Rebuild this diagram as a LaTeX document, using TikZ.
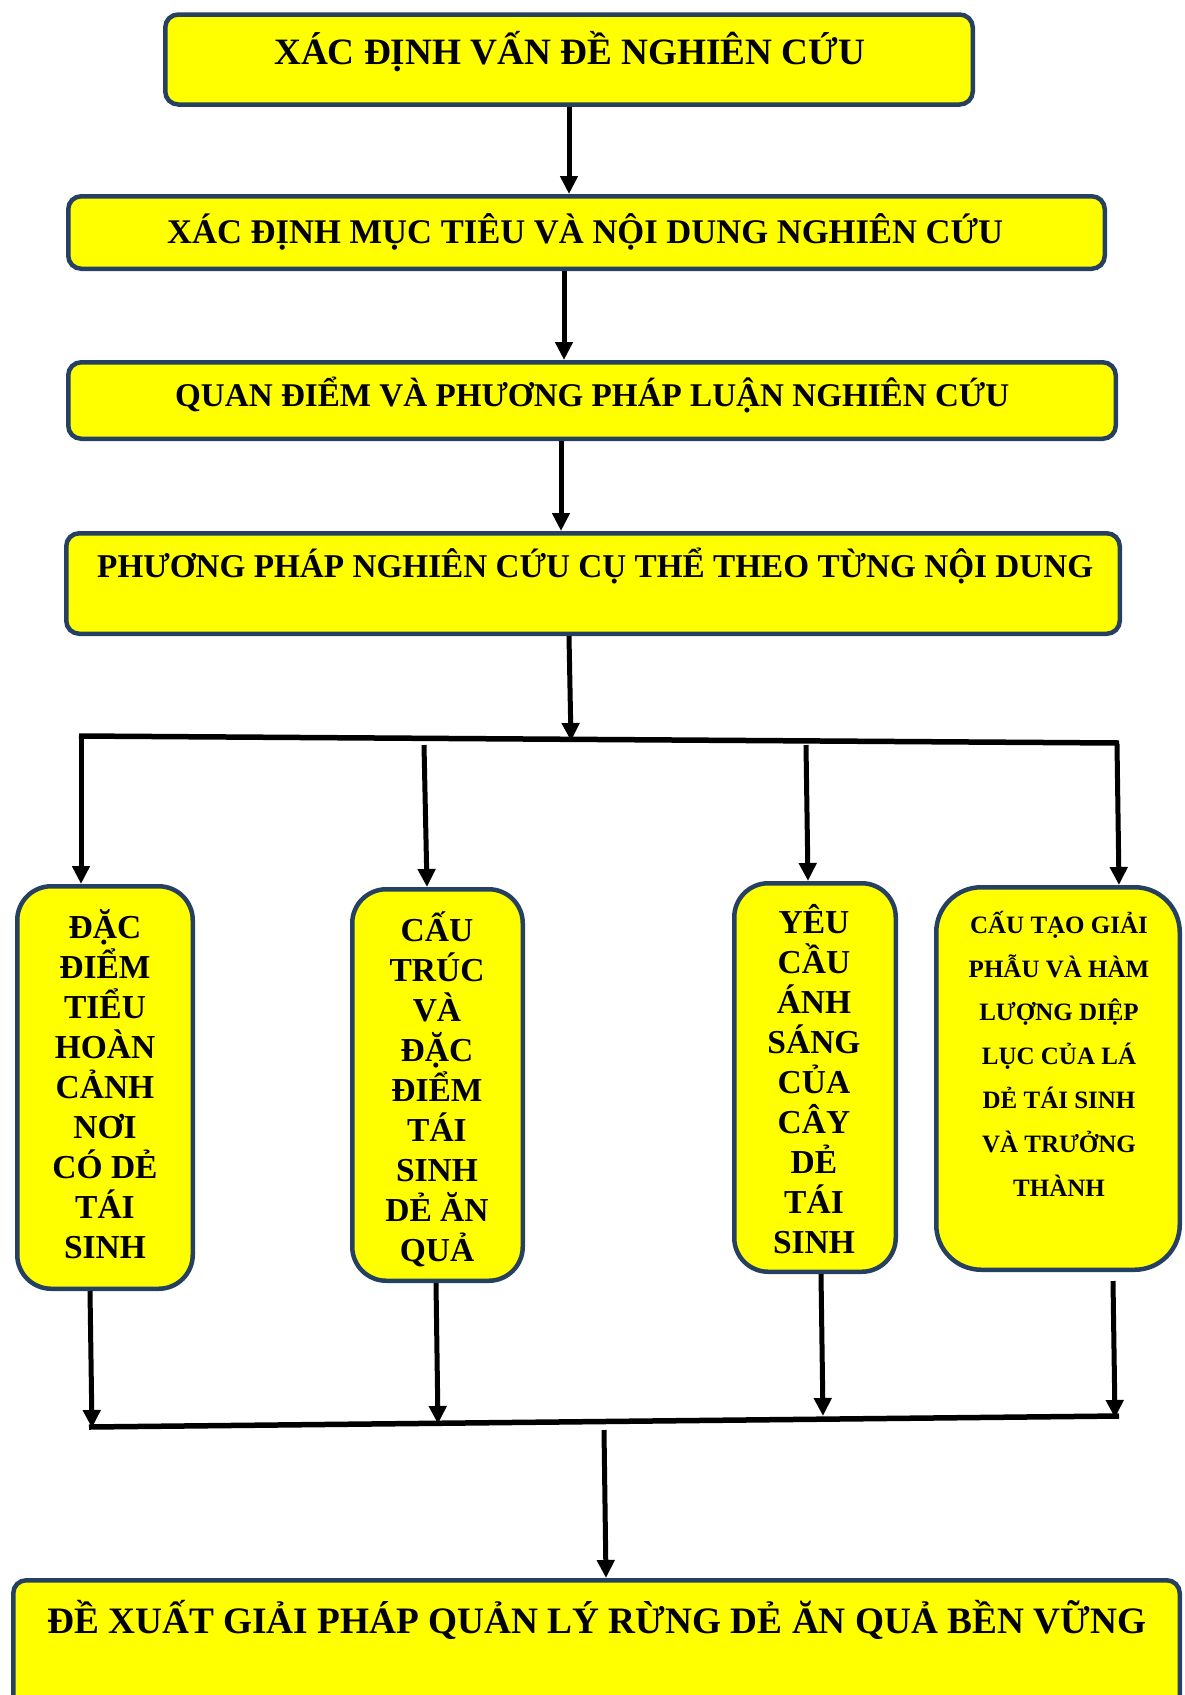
\documentclass[tikz,border=0pt]{standalone}
\usepackage{fontspec}
\usepackage{graphicx}
\setmainfont{Liberation Serif}
\usetikzlibrary{arrows.meta}
\definecolor{bordc}{RGB}{38,64,97}
\definecolor{boxy}{RGB}{255,255,0}
\begin{document}
\begin{tikzpicture}[x=1pt,y=-1pt,
  box/.style={draw=bordc,line width=4.5pt,fill=boxy,rounded corners=13pt,inner sep=0pt},
  colbox/.style={box,rounded corners=34pt},
  arr/.style={line width=5pt,-{Triangle[width=17pt,length=18pt]}},
  bus/.style={line width=5.5pt},
  ttl/.style={inner sep=0pt,anchor=base west,font=\bfseries\fontsize{35}{40}\selectfont},
  ctxt/.style={inner sep=0pt,anchor=base,align=center,font=\bfseries\fontsize{33.5}{40}\selectfont},
  dtxt/.style={inner sep=0pt,anchor=base,align=center,font=\bfseries\fontsize{25}{43.8}\selectfont},
]
\useasboundingbox (0,0) rectangle (1184,1695);
\clip (0,0) rectangle (1184,1695);

% boxes
\node[box,minimum width=807.5pt,minimum height=90pt] (b1) at (569,59.5) {};
\node[box,minimum width=1036.5pt,minimum height=72.5pt] (b2) at (586.5,232.5) {};
\node[box,minimum width=1047.5pt,minimum height=76.5pt] (b3) at (592,400.5) {};
\node[box,minimum width=1053.5pt,minimum height=100.5pt] (b4) at (593,583.5) {};
\node[colbox,minimum width=175.5pt,minimum height=402.5pt] (cA) at (105,1087.5) {};
\node[colbox,minimum width=170.5pt,minimum height=391.5pt] (cB) at (437.5,1085) {};
\node[colbox,minimum width=161.5pt,minimum height=388.5pt] (cC) at (815,1077.5) {};
\node[colbox,rounded corners=45pt,minimum width=243.5pt,minimum height=382.5pt] (cD) at (1058,1078.5) {};
\node[box,minimum width=1166.5pt,minimum height=157.5pt] (b5) at (596.5,1659) {};

% texts
\node[ttl] (t1) at (274,64) {\resizebox{591pt}{!}{XÁC ĐỊNH VẤN ĐỀ NGHIÊN CỨU}};
\node[ttl] (t2) at (167,243) {\resizebox{836pt}{!}{XÁC ĐỊNH MỤC TIÊU VÀ NỘI DUNG NGHIÊN CỨU}};
\node[ttl] (t3) at (175,406) {\resizebox{834pt}{!}{QUAN ĐIỂM VÀ PHƯƠNG PHÁP LUẬN NGHIÊN CỨU}};
\node[ttl] (t4) at (97,577) {\resizebox{996pt}{!}{PHƯƠNG PHÁP NGHIÊN CỨU CỤ THỂ THEO TỪNG NỘI DUNG}};
\node[ttl] (t5) at (47,1633) {\resizebox{1099pt}{!}{ĐỀ XUẤT GIẢI PHÁP QUẢN LÝ RỪNG DẺ ĂN QUẢ BỀN VỮNG}};

% anchor=base of a multi-line node is the baseline of its last line
\node[ctxt] (tA) at (105,1258) {ĐẶC\\ĐIỂM\\TIỂU\\HOÀN\\CẢNH\\NƠI\\CÓ DẺ\\TÁI\\SINH};
\node[ctxt] (tB) at (437,1261) {CẤU\\TRÚC\\VÀ\\ĐẶC\\ĐIỂM\\TÁI\\SINH\\DẺ ĂN\\QUẢ};
\node[ctxt] (tC) at (814,1253) {YÊU\\CẦU\\ÁNH\\SÁNG\\CỦA\\CÂY\\DẺ\\TÁI\\SINH};
\node[dtxt] (tD) at (1059,1196) {CẤU TẠO GIẢI\\PHẪU VÀ HÀM\\LƯỢNG DIỆP\\LỤC CỦA LÁ\\DẺ TÁI SINH\\VÀ TRƯỞNG\\THÀNH};

% top chain
\draw[arr] (b1.south) -- (b1.south |- b2.north);
\draw[arr] ([xshift=-22.5pt]b2.south) -- ([xshift=-22.5pt]b2.south |- b3.north);
\draw[arr] ([xshift=-31pt]b3.south) -- ([xshift=-31pt]b3.south |- b4.north);

% top bus
\coordinate (busL) at (79,736);
\coordinate (busR) at (1119,743);
\coordinate (j0) at (571,741);
\draw[bus] (busL) -- (busR);
\draw[arr] ([xshift=-24pt]b4.south) -- (j0);

\coordinate (vA) at (81,737);
\coordinate (vB) at (424,745);
\coordinate (vC) at (806,745);
\coordinate (vD) at (1117,744);
\draw[arr] (vA) -- ([xshift=-24pt]cA.north);
\draw[arr] (vB) -- ([xshift=-10.5pt]cB.north);
\draw[arr] (vC) -- ([xshift=-7pt]cC.north);
\draw[arr] (vD) -- ([xshift=61pt]cD.north);

% bottom bus
\coordinate (bL) at (89,1427);
\coordinate (bR) at (1119,1416);
\coordinate (kA) at (92,1428);
\coordinate (kB) at (438,1424);
\coordinate (kC) at (823,1416);
\coordinate (kD) at (1115,1418);
\coordinate (kM) at (604,1430);
\draw[bus] (bL) -- (bR);
\draw[arr] ([xshift=-15pt]cA.south) -- (kA);
\draw[arr] ([xshift=-1.5pt]cB.south) -- (kB);
\draw[arr] ([xshift=6pt]cC.south) -- (kC);
\draw[arr] ([xshift=55pt,yshift=-9pt]cD.south) -- (kD);
\draw[arr] (kM) -- ([xshift=9.5pt]b5.north);
\end{tikzpicture}
\end{document}
